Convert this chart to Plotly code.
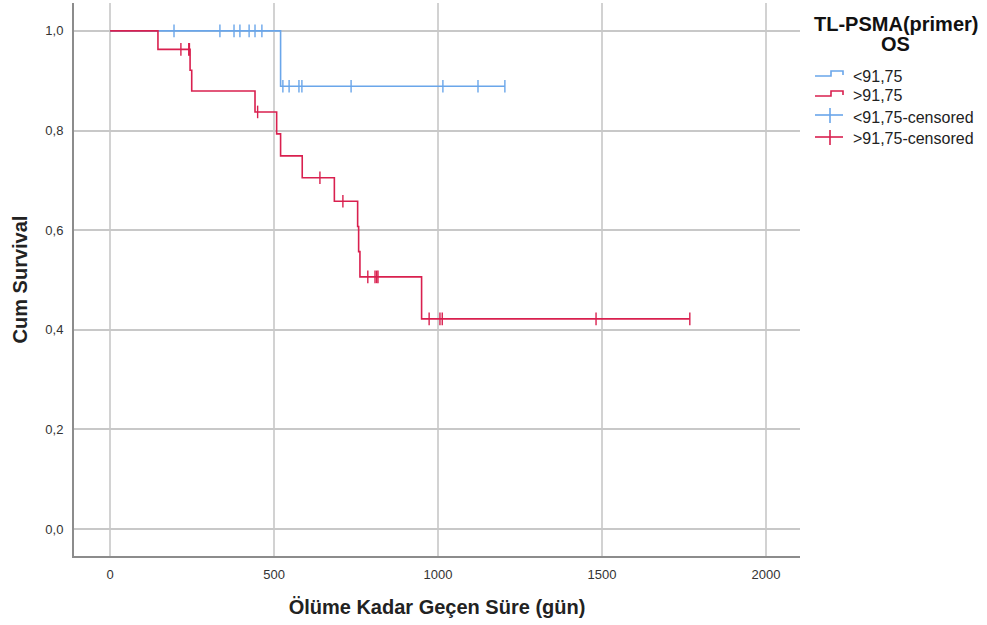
import plotly.graph_objects as go

# ---- survival data (days) ----
group_labels = ["<91,75", ">91,75"]
colors = ["#6aa6ea", "#d9204f"]

low_events = [520]
low_censored = [195, 335, 378, 396, 424, 442, 463,
                527, 546, 576, 585, 735, 1015, 1122, 1204]

high_events = [146, 244, 249, 442, 508, 520, 586, 684, 755, 758, 762, 950]
high_censored = [216, 240, 242, 450, 640, 710, 786, 808, 813, 817,
                 973, 1006, 1013, 1482, 1768]

x_ticks = [0, 500, 1000, 1500, 2000]
y_ticks = [0.0, 0.2, 0.4, 0.6, 0.8, 1.0]
y_tick_text = ["0,0", "0,2", "0,4", "0,6", "0,8", "1,0"]

legend_title = ["TL-PSMA(primer)", "OS"]
legend_items = ["<91,75", ">91,75", "<91,75-censored", ">91,75-censored"]


def kaplan_meier(events, censored):
    """Return step coordinates and censor-mark positions of a KM estimate."""
    records = [(t, 1) for t in events] + [(t, 0) for t in censored]
    records.sort(key=lambda r: (r[0], -r[1]))
    at_risk = len(records)
    s = 1.0
    xs, ys = [0.0], [1.0]
    cx, cy = [], []
    for t, is_event in records:
        if is_event:
            s *= (at_risk - 1) / at_risk
            xs.append(t)
            ys.append(s)
        else:
            cx.append(t)
            cy.append(s)
        at_risk -= 1
    last = max(t for t, _ in records)
    if xs[-1] < last:
        xs.append(last)
        ys.append(s)
    return xs, ys, cx, cy


FONT = "Liberation Sans, Arial, sans-serif"
fig = go.Figure()

for (ev, ce), name, col in zip([(low_events, low_censored), (high_events, high_censored)],
                               group_labels, colors):
    xs, ys, cx, cy = kaplan_meier(ev, ce)
    fig.add_trace(go.Scatter(x=xs, y=ys, mode="lines", line=dict(color=col, width=1.6, shape="hv"),
                             name=name, showlegend=False))
    fig.add_trace(go.Scatter(x=cx, y=cy, mode="markers",
                             marker=dict(symbol="line-ns", size=9, line=dict(color=col, width=1.4)),
                             name=name + "-censored", showlegend=False))

W, H = 987, 625
ML, MR, MT, MB = 74, 187, 3, 69
PW, PH = W - ML - MR, H - MT - MB


def px(x):
    return (x - ML) / PW


def py(y):
    return (H - MB - y) / PH


# hand-drawn legend to the right of the plot
shapes = []
annotations = []
annotations.append(dict(x=px(896), y=py(24), xref="paper", yref="paper", text="<b>%s</b>" % legend_title[0],
                        showarrow=False, xanchor="center", yanchor="middle",
                        font=dict(family=FONT, size=20, color="#111")))
annotations.append(dict(x=px(895), y=py(44), xref="paper", yref="paper", text="<b>%s</b>" % legend_title[1],
                        showarrow=False, xanchor="center", yanchor="middle",
                        font=dict(family=FONT, size=20, color="#111")))
rows = [76, 96, 117, 139]
for i, (label, row) in enumerate(zip(legend_items, rows)):
    col = colors[i % 2]
    if i < 2:
        path = "M {} {} L {} {} L {} {} L {} {} L {} {}".format(
            px(815), py(row), px(831), py(row), px(831), py(row - 5), px(843), py(row - 5), px(843), py(row - 1))
        shapes.append(dict(type="path", path=path, xref="paper", yref="paper",
                           line=dict(color=col, width=1.6)))
    else:
        shapes.append(dict(type="line", x0=px(815), x1=px(843), y0=py(row - 2), y1=py(row - 2),
                           xref="paper", yref="paper", line=dict(color=col, width=1.6)))
        shapes.append(dict(type="line", x0=px(830), x1=px(830), y0=py(row - 9), y1=py(row + 6),
                           xref="paper", yref="paper", line=dict(color=col, width=1.6)))
    annotations.append(dict(x=px(851), y=py(row), xref="paper", yref="paper", text=label,
                            showarrow=False, xanchor="left", yanchor="middle",
                            font=dict(family=FONT, size=16, color="#222")))

fig.update_layout(
    width=W, height=H,
    margin=dict(l=ML, r=MR, t=MT, b=MB, pad=0),
    paper_bgcolor="white", plot_bgcolor="white",
    showlegend=False,
    shapes=shapes, annotations=annotations,
    font=dict(family=FONT, color="#333"),
)
fig.update_xaxes(
    range=[-110, 2104], tickvals=x_ticks, ticktext=[str(v) for v in x_ticks],
    showgrid=True, gridcolor="#d2d2d2", gridwidth=1.5, zeroline=False,
    showline=True, linecolor="#8c8c8c", linewidth=2,
    ticks="outside", ticklen=5, tickcolor="rgba(0,0,0,0)",
    tickfont=dict(family=FONT, size=13, color="#333"),
    title=dict(text="<b>Ölüme Kadar Geçen Süre (gün)</b>", standoff=19,
               font=dict(family=FONT, size=20, color="#222")),
)
fig.update_yaxes(
    range=[-0.054, 1.056], tickvals=y_ticks, ticktext=y_tick_text,
    showgrid=True, gridcolor="#c8c8c8", gridwidth=1.5, zeroline=False,
    showline=True, linecolor="#8c8c8c", linewidth=2,
    ticks="outside", ticklen=6, tickcolor="rgba(0,0,0,0)",
    tickfont=dict(family=FONT, size=13, color="#333"),
    title=dict(text="<b>Cum Survival</b>", standoff=12,
               font=dict(family=FONT, size=20, color="#222")),
)

fig.write_html("out.html")
